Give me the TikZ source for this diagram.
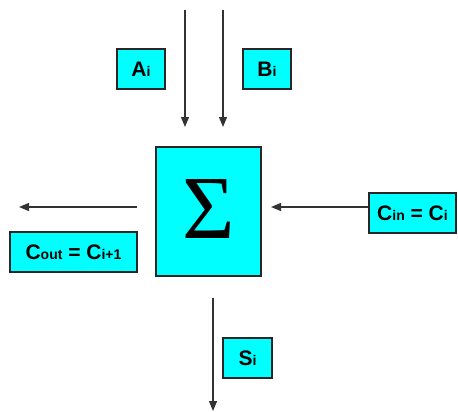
\documentclass[tikz,border=0pt]{standalone}
\usepackage{fontspec}
\setmainfont{Liberation Sans}
\newfontfamily\serifsig{Liberation Serif}
\usetikzlibrary{arrows.meta}
\definecolor{boxcyan}{HTML}{00FFFF}
\definecolor{arrgray}{HTML}{333333}
\newcommand{\sbx}[1]{{\fontsize{14}{14}\selectfont #1}}
\tikzset{
  lbl/.style={draw=black!85, line width=1.3pt, fill=boxcyan, inner sep=0pt,
    minimum height=40pt, font=\bfseries\fontsize{21}{21}\selectfont},
  flow/.style={draw=arrgray, line width=1.2pt, -{Triangle[length=10pt,width=8pt]}}
}
\begin{document}
\begin{tikzpicture}[x=1pt,y=-1pt]
\useasboundingbox (0,0) rectangle (458,412);
\node[lbl, minimum width=105pt, minimum height=129pt] (sum) at (208.5,211.5) {\serifsig\mdseries\fontsize{90}{90}\selectfont\raisebox{4pt}{Σ}};
\node[lbl, minimum width=48pt] (a) at (141,69) {A\sbx{i}};
\node[lbl, minimum width=48pt] (b) at (267,69) {B\sbx{i}};
\node[lbl, minimum width=127pt] (cout) at (73.5,252) {C\sbx{out} = C\sbx{i+1}};
\node[lbl, minimum width=87pt] (cin) at (412.5,213) {C\sbx{in} = C\sbx{i}};
\node[lbl, minimum width=49pt] (s) at (247.5,358) {S\sbx{i}};
\coordinate (a0) at (185,10);
\coordinate (a1) at (185,127);
\coordinate (b0) at (223,10);
\coordinate (b1) at (223,127);
\coordinate (l0) at (137,207);
\coordinate (l1) at (19,207);
\coordinate (r1) at (271,207);
\coordinate (s0) at (213,298);
\coordinate (s1) at (213,411);
\draw[flow] (a0) -- (a1);
\draw[flow] (b0) -- (b1);
\draw[flow] (l0) -- (l1);
\draw[flow] (cin.west |- r1) -- (r1);
\draw[flow] (s0) -- (s1);
\end{tikzpicture}
\end{document}
